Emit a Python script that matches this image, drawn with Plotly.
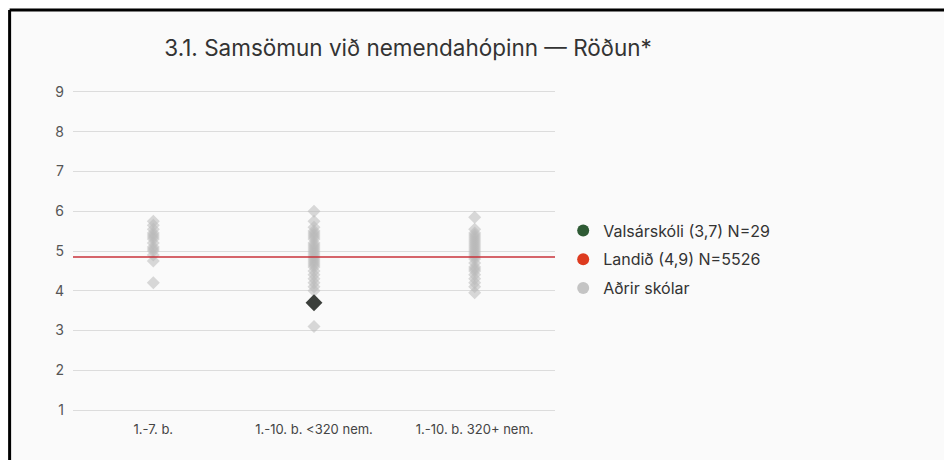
"""Samsömun við nemendahópinn — punktarit eftir skólagerð."""
import plotly.graph_objects as go

CATEGORIES = ["1.-7. b.", "1.-10. b. <320 nem.", "1.-10. b. 320+ nem."]

OTHER_1_7 = [5.75, 5.65, 5.55, 5.45, 5.4, 5.35, 5.3, 5.2, 5.1, 5.05, 5.0, 4.9, 4.75, 4.2]
OTHER_SMALL = [6.0, 5.75, 5.6, 5.5, 5.45, 5.4, 5.35, 5.3, 5.2, 5.15, 5.1, 5.05, 5.0,
               4.95, 4.9, 4.85, 4.8, 4.75, 4.7, 4.65, 4.6, 4.5, 4.4, 4.3, 4.2, 4.1,
               4.0, 3.1]
OTHER_LARGE = [5.85, 5.55, 5.45, 5.4, 5.35, 5.3, 5.25, 5.2, 5.15, 5.1, 5.05, 5.0,
               4.95, 4.9, 4.85, 4.8, 4.7, 4.6, 4.55, 4.5, 4.4, 4.3, 4.2, 4.1, 3.95]

SCHOOL_NAME = "Valsárskóli (3,7) N=29"
SCHOOL_CATEGORY = "1.-10. b. <320 nem."
SCHOOL_VALUE = 3.7

NATION_NAME = "Landið (4,9) N=5526"
NATION_VALUE = 4.85

OTHERS_NAME = "Aðrir skólar"
Y_TICKS = [1, 2, 3, 4, 5, 6, 7, 8, 9]

GREY = "rgba(185,185,185,0.55)"
GREEN = "#2e5a34"
RED_LINE = "#c8323a"
RED_DOT = "#dd3b1f"
INK = "#333333"

fig = go.Figure()

for cat, vals in zip(CATEGORIES, [OTHER_1_7, OTHER_SMALL, OTHER_LARGE]):
    fig.add_trace(go.Scatter(
        x=[cat] * len(vals), y=vals, mode="markers",
        marker=dict(symbol="diamond", size=10, color=GREY),
        showlegend=False, hoverinfo="y",
    ))

fig.add_trace(go.Scatter(
    x=[SCHOOL_CATEGORY], y=[SCHOOL_VALUE], mode="markers",
    marker=dict(symbol="diamond", size=13, color="#3b3f3b"),
    showlegend=False,
))

# Legend entries (circles)
for name, color in [(SCHOOL_NAME, GREEN), (NATION_NAME, RED_DOT), (OTHERS_NAME, "#c4c4c4")]:
    fig.add_trace(go.Scatter(
        x=[None], y=[None], mode="markers", name=name, legendgroup=name,
        marker=dict(symbol="circle", size=11, color=color),
    ))

fig.add_shape(type="line", xref="paper", yref="y", x0=0, x1=1,
              y0=NATION_VALUE, y1=NATION_VALUE,
              line=dict(color=RED_LINE, width=1.5))

# frame (pixel positions expressed in paper units)
fig.add_shape(type="line", xref="paper", yref="paper",
              x0=-0.1315, x1=-0.1315, y0=-0.3, y1=1.239,
              line=dict(color="black", width=3))
fig.add_shape(type="line", xref="paper", yref="paper",
              x0=-0.1315, x1=1.95, y0=1.239, y1=1.239,
              line=dict(color="black", width=3))

fig.update_layout(
    width=952, height=460,
    margin=dict(l=65, r=405, t=80, b=54),
    paper_bgcolor="#fafafa",
    plot_bgcolor="#fafafa",
    font=dict(family="Inter, Roboto, Arial", color=INK),
    title=dict(text="3.1. Samsömun við nemendahópinn — Röðun*",
               x=400 / 952, xanchor="center", xref="container",
               y=1 - 40 / 460, yanchor="middle",
               font=dict(size=22.5, color=INK)),
    legend=dict(x=1.017, y=0.615, xanchor="left", yanchor="top",
                font=dict(size=16, color=INK), bgcolor="rgba(0,0,0,0)",
                traceorder="grouped", tracegroupgap=5, itemsizing="constant"),
)
fig.update_xaxes(type="category", categoryorder="array", categoryarray=CATEGORIES,
                 range=[-0.5, 2.5], showgrid=False, zeroline=False,
                 ticklabelstandoff=6,
                 tickfont=dict(size=13, color="#444"))
fig.update_yaxes(range=[0.9, 9.1], tickvals=Y_TICKS, showgrid=True,
                 gridcolor="#dcdcdc", gridwidth=1, zeroline=False,
                 ticks="", ticklabelstandoff=8,
                 tickfont=dict(size=14, color="#555"))

fig.write_html("out.html")
